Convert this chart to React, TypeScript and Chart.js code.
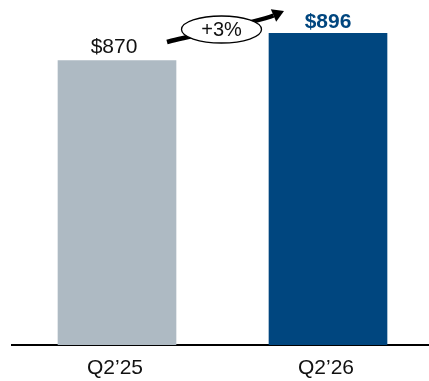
import React, { useEffect, useRef } from "react";
import { Chart, registerables } from "chart.js";

Chart.register(...registerables);

const categories = ["Q2\u201925", "Q2\u201926"];
const values = [870, 896];
const valueLabels = ["$870", "$896"];
const barColors = ["#AEBAC3", "#00467F"];
const labelColors = ["#111111", "#00467F"];
const labelWeights = ["normal", "bold"];
const growthLabel = "+3%";
const yMin = 600;
const yMax = 920;

const FONT = '"Liberation Sans", Arial, Helvetica, sans-serif';

const labelPlugin = {
  id: "valueLabels",
  afterDatasetsDraw(chart: any) {
    const ctx = chart.ctx;
    const meta = chart.getDatasetMeta(0);
    ctx.save();
    meta.data.forEach((bar: any, i: number) => {
      ctx.font = `${labelWeights[i]} 21px ${FONT}`;
      ctx.fillStyle = labelColors[i];
      ctx.textAlign = "center";
      ctx.textBaseline = "alphabetic";
      const dx = i === 0 ? -3 : 0;
      const dy = i === 0 ? 8 : 5;
      ctx.fillText(valueLabels[i], bar.x + dx, bar.y - dy);
    });

    // growth arrow + ellipse between bars
    const b0 = meta.data[0];
    const b1 = meta.data[1];
    const left = b0.x + b0.width / 2;
    const right = b1.x - b1.width / 2;
    const mid = (left + right) / 2;
    const cx = mid - 1;
    const cy = 29.5;

    const p0 = [left - 9, 42];
    const p1 = [left + 9, 37];
    const p2 = [right - 11, 22];
    const p3 = [right + 4.5, 15.5];
    const tip = [right + 15, 11];

    ctx.strokeStyle = "#000";
    ctx.fillStyle = "#000";
    ctx.lineWidth = 4.5;
    ctx.lineCap = "butt";
    ctx.beginPath();
    ctx.moveTo(p0[0], p0[1]);
    ctx.bezierCurveTo(p1[0], p1[1], p2[0], p2[1], p3[0], p3[1]);
    ctx.stroke();
    // arrow head
    const a = Math.atan2(tip[1] - p3[1], tip[0] - p3[0]);
    const hw = 6.8;
    ctx.beginPath();
    ctx.moveTo(tip[0], tip[1]);
    ctx.lineTo(p3[0] + hw * Math.sin(a), p3[1] - hw * Math.cos(a));
    ctx.lineTo(p3[0] - hw * Math.sin(a), p3[1] + hw * Math.cos(a));
    ctx.closePath();
    ctx.fill();

    // ellipse
    ctx.beginPath();
    ctx.ellipse(cx, cy, 40, 13.5, 0, 0, Math.PI * 2);
    ctx.fillStyle = "#fff";
    ctx.fill();
    ctx.lineWidth = 1.3;
    ctx.strokeStyle = "#000";
    ctx.stroke();

    ctx.fillStyle = "#111";
    ctx.font = `20px ${FONT}`;
    ctx.textAlign = "center";
    ctx.textBaseline = "middle";
    ctx.fillText(growthLabel, cx, cy + 1);
    ctx.restore();
  },
};

export default function App() {
  const ref = useRef<HTMLCanvasElement>(null);
  useEffect(() => {
    if (!ref.current) return;
    const chart = new Chart(ref.current, {
      type: "bar",
      data: {
        labels: categories,
        datasets: [
          {
            data: values,
            backgroundColor: barColors,
            barThickness: 118,
            borderWidth: 0,
          },
        ],
      },
      options: {
        responsive: false,
        animation: false,
        layout: { padding: { left: 11.5, right: 6.5, top: 8, bottom: 0 } },
        plugins: {
          legend: { display: false },
          tooltip: { enabled: false },
        },
        scales: {
          x: {
            z: 1,
            grid: { display: false, drawTicks: false },
            border: { display: true, color: "#000", width: 2 },
            ticks: {
              color: "#111",
              font: { family: FONT, size: 21 },
              padding: 11,
              labelOffset: -2,
            },
            afterFit: (scale: any) => {
              scale.height = 36;
            },
          },
          y: {
            display: false,
            min: yMin,
            max: yMax,
          },
        },
      },
      plugins: [labelPlugin],
    });
    return () => chart.destroy();
  }, []);
  return (
    <div
      style={{
        position: "absolute",
        left: 0,
        top: 0,
        width: 429,
        height: 381,
        overflow: "hidden",
        background: "#fff",
      }}
    >
      <canvas ref={ref} width={440} height={381} style={{ width: 440, height: 381 }} />
    </div>
  );
}
